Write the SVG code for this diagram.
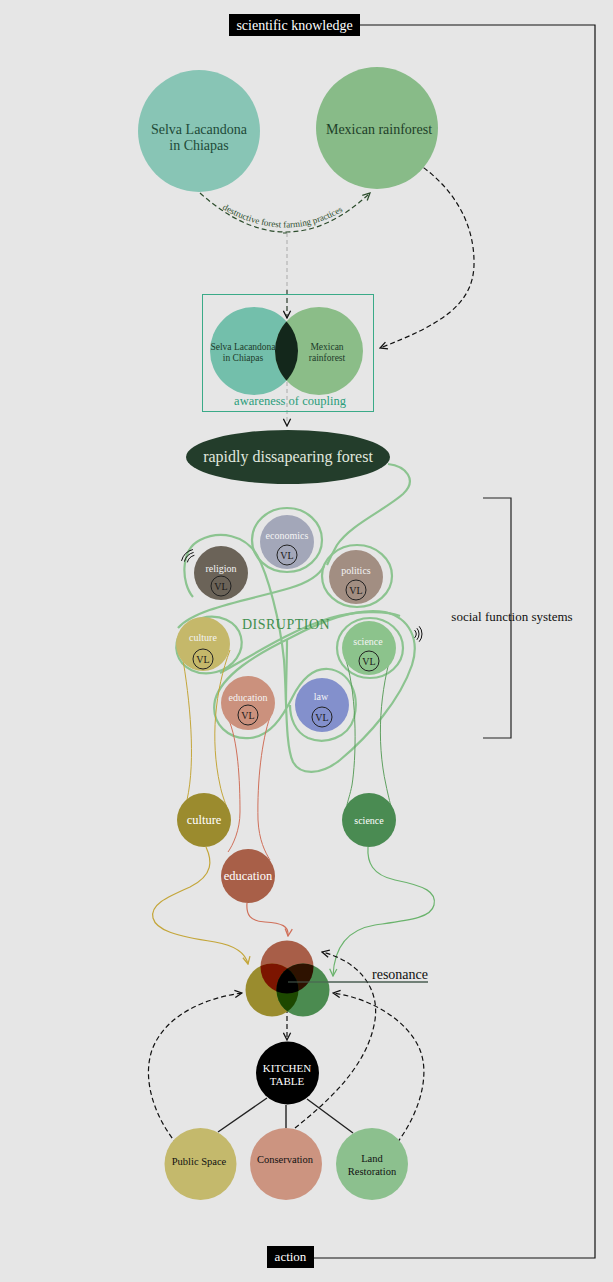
<svg xmlns="http://www.w3.org/2000/svg" width="613" height="1282" viewBox="0 0 613 1282">
<defs>
<style>
text{font-family:"Liberation Serif","DejaVu Serif",serif;}
.c{text-anchor:middle;}
.tangle{fill:none;stroke:#8cc490;stroke-width:2.2;}
.vl{fill:none;stroke:#222;stroke-width:1;}
.vlt{font-size:10px;fill:#1a1a1a;text-anchor:middle;}
.lab{font-size:10px;fill:#f4f4f4;text-anchor:middle;}
.dash{fill:none;stroke:#111;stroke-width:1.2;stroke-dasharray:5,3;}
.vib{fill:none;stroke:#111;stroke-width:1;}
</style>
<marker id="mBlack" viewBox="0 0 10 10" refX="9" refY="5" markerWidth="9" markerHeight="9" markerUnits="userSpaceOnUse" orient="auto"><path d="M1,1 L9,5 L1,9" fill="none" stroke="#111" stroke-width="1.4"/></marker>
<marker id="mDG" viewBox="0 0 10 10" refX="9" refY="5" markerWidth="9" markerHeight="9" markerUnits="userSpaceOnUse" orient="auto"><path d="M1,1 L9,5 L1,9" fill="none" stroke="#2d4d2d" stroke-width="1.4"/></marker>
<marker id="mOl" viewBox="0 0 10 10" refX="9" refY="5" markerWidth="9" markerHeight="9" markerUnits="userSpaceOnUse" orient="auto"><path d="M1,1 L9,5 L1,9" fill="none" stroke="#c4a63a" stroke-width="1.4"/></marker>
<marker id="mRd" viewBox="0 0 10 10" refX="9" refY="5" markerWidth="9" markerHeight="9" markerUnits="userSpaceOnUse" orient="auto"><path d="M1,1 L9,5 L1,9" fill="none" stroke="#d0705a" stroke-width="1.4"/></marker>
<marker id="mGr" viewBox="0 0 10 10" refX="9" refY="5" markerWidth="9" markerHeight="9" markerUnits="userSpaceOnUse" orient="auto"><path d="M1,1 L9,5 L1,9" fill="none" stroke="#6ab36c" stroke-width="1.4"/></marker>
<clipPath id="cSelva"><circle cx="254" cy="351" r="44"/></clipPath>
<clipPath id="cTop"><circle cx="287" cy="967" r="26.5"/></clipPath>
<clipPath id="cLeft"><circle cx="272" cy="990" r="26.5"/></clipPath>
<path id="arcText" d="M203,196 Q286,258 362,198"/>
</defs>
<rect x="0" y="0" width="613" height="1282" fill="#e6e6e6"/>

<g id="connectors">
<!-- frame -->
<path d="M360,25 H595 V1258 H314" fill="none" stroke="#111" stroke-width="1.2"/>
<!-- destructive practices arc -->
<path d="M200,193 Q287,271 370,193" fill="none" stroke="#2d4d2d" stroke-width="1.2" stroke-dasharray="5,3" marker-end="url(#mDG)"/>
<text font-size="9" fill="#2d4d2d"><textPath href="#arcText" startOffset="50%" text-anchor="middle">destructive forest farming practices</textPath></text>
<!-- vertical gray line -->
<path d="M283,233 H287" stroke="#2d4d2d" stroke-width="1"/>
<path d="M287,233 V290" fill="none" stroke="#aaa" stroke-width="1" stroke-dasharray="4,3"/>
<path d="M287,290 V318" fill="none" stroke="#2a3a2a" stroke-width="1.2" stroke-dasharray="5,3" marker-end="url(#mBlack)"/>
<path d="M287,382 V426" fill="none" stroke="#aaa" stroke-width="1" stroke-dasharray="4,3" marker-end="url(#mBlack)"/>
<!-- mexican rainforest to venn -->
<path class="dash" d="M417,163 C450,185 475,220 474,265 C473,305 440,325 380,348" marker-end="url(#mBlack)"/>
<!-- tangle -->
<path class="tangle" d="M388,464 C406,466 418,480 403,494 C385,510 350,525 337,545 C333,552 330,558 327,565"/>
<path class="tangle" d="M178,628 C195,608 250,600 290,588 C310,582 320,574 324,566"/>
<path class="tangle" d="M193,597 C181,583 180,550 200,540 C220,530 245,535 257,555 C268,575 280,620 284,660 C287,700 285,745 293,762 C300,775 320,776 340,760 C370,735 400,700 412,665 C420,640 410,618 385,612 C355,607 320,622 290,638 C255,655 222,675 215,700 C210,725 230,740 250,738 C270,736 282,718 292,698 C300,682 312,668 328,669 C350,671 360,695 354,718 C348,738 325,745 308,738 C295,732 290,718 290,705"/>
<path class="tangle" d="M220,673 C245,660 290,630 330,618 C355,611 385,610 400,616"/>
<path class="tangle" d="M287,640 C287,660 286,680 286,700"/>
<ellipse class="tangle" cx="287" cy="540" rx="35" ry="32"/>
<ellipse class="tangle" cx="357" cy="576" rx="35" ry="31"/>
<ellipse class="tangle" cx="209" cy="645" rx="33" ry="28" transform="rotate(-15 209 645)"/>
<ellipse class="tangle" cx="370" cy="648" rx="33" ry="30"/>
<!-- strands -->
<path d="M182,654 C190,700 196,760 187,800" fill="none" stroke="#c4a63a" stroke-width="1"/>
<path d="M230,650 C215,690 210,740 220,785 C222,795 225,802 227,808" fill="none" stroke="#c4a63a" stroke-width="1"/>
<path d="M228,718 C238,740 240,780 240,812 C240,830 233,845 228,852" fill="none" stroke="#d0705a" stroke-width="1"/>
<path d="M270,717 C262,740 257,780 258,820 C259,840 265,852 270,860" fill="none" stroke="#d0705a" stroke-width="1"/>
<path d="M346,660 C358,700 356,760 352,785 C350,795 348,800 347,805" fill="none" stroke="#5fa060" stroke-width="1"/>
<path d="M393,648 C380,690 376,740 386,785 C388,795 390,802 391,807" fill="none" stroke="#5fa060" stroke-width="1"/>
<!-- to resonance -->
<path d="M206,847 C212,860 214,875 190,887 C165,898 150,905 153,918 C156,930 175,936 215,942 C238,946 246,955 248,964" fill="none" stroke="#c4a63a" stroke-width="1.2" marker-end="url(#mOl)"/>
<path d="M247,903 C246,915 250,921 265,922 C282,923 289,926 288,936" fill="none" stroke="#d0705a" stroke-width="1.2" marker-end="url(#mRd)"/>
<path d="M368,847 C367,862 372,875 395,880 C425,886 437,892 434,905 C431,918 410,920 375,925 C345,930 334,950 333,976" fill="none" stroke="#6ab36c" stroke-width="1.2" marker-end="url(#mGr)"/>
<!-- resonance line -->
<path d="M288,982 H428" stroke="#4a5e52" stroke-width="1.2"/>
<!-- venn to kitchen -->
<path class="dash" d="M287,984 V1040" marker-end="url(#mBlack)"/>
<!-- kitchen lines -->
<path d="M267,1098 L218,1132 M286,1105 V1128 M307,1099 L353,1133" stroke="#222" stroke-width="1.4"/>
<!-- action loops -->
<path class="dash" d="M188,1156 C160,1130 140,1085 152,1050 C165,1015 205,998 242,993" marker-end="url(#mBlack)"/>
<path class="dash" d="M295,1128 C330,1100 368,1065 375,1020 C380,985 355,960 322,952" marker-end="url(#mBlack)"/>
<path class="dash" d="M387,1155 C415,1125 432,1080 420,1050 C408,1020 370,998 333,993" marker-end="url(#mBlack)"/>
<!-- bracket -->
<path d="M483,498 H511 V738 H483" fill="none" stroke="#222" stroke-width="1.2"/>
<!-- vibration marks -->
<path class="vib" d="M187.3,562.4 A10,10 0 0,1 194.4,555.3 M184.4,561.6 A13,13 0 0,1 193.6,552.4 M181.5,560.9 A16,16 0 0,1 192.9,549.5"/>
<path class="vib" d="M414.6,630.1 A6,6 0 0,1 414.6,637.9 M416.9,628.2 A9,9 0 0,1 416.9,639.8 M419.2,626.3 A12,12 0 0,1 419.2,641.7"/>
</g>

<g id="label-scientific">
<rect x="229" y="14" width="131" height="22" fill="#000"/>
<text x="294.5" y="30" class="c" font-size="14" fill="#fff">scientific knowledge</text>
</g>
<g id="label-action">
<rect x="267" y="1246" width="47" height="22" fill="#000"/>
<text x="290.5" y="1261" class="c" font-size="13" fill="#fff">action</text>
</g>

<g id="selva">
<circle cx="199" cy="131" r="61" fill="#88c5b5"/>
<text x="199" y="134" class="c" font-size="14" fill="#1e4a38">Selva Lacandona</text>
<text x="199" y="150" class="c" font-size="14" fill="#1e4a38">in Chiapas</text>
</g>
<g id="mexican">
<circle cx="377" cy="128" r="61" fill="#88bb88"/>
<text x="379" y="134" class="c" font-size="14" fill="#1e4028">Mexican rainforest</text>
</g>

<g id="coupling">
<rect x="202.5" y="294.5" width="171" height="117" fill="none" stroke="#3aaa88" stroke-width="1"/>
<circle cx="254" cy="351" r="44" fill="#73bfab"/>
<circle cx="319" cy="351" r="44" fill="#8bbd88"/>
<circle cx="319" cy="351" r="44" fill="#13271b" clip-path="url(#cSelva)"/>
<text x="243" y="350" class="c" font-size="9.5" fill="#1d3b2a">Selva Lacandona</text>
<text x="243" y="361" class="c" font-size="9.5" fill="#1d3b2a">in Chiapas</text>
<text x="327" y="350" class="c" font-size="9.5" fill="#1d3b2a">Mexican</text>
<text x="327" y="361" class="c" font-size="9.5" fill="#1d3b2a">rainforest</text>
<text x="290" y="405" class="c" font-size="12.5" fill="#2a9d7a">awareness of coupling</text>
</g>

<g id="forest">
<ellipse cx="288" cy="457" rx="102" ry="27" fill="#233d2b"/>
<text x="288" y="462" class="c" font-size="16" fill="#e0e8df">rapidly dissapearing forest</text>
</g>

<g id="disruption-label">
<text x="286" y="629" class="c" font-size="14" fill="#3f8f4f" letter-spacing="0.5">DISRUPTION</text>
</g>

<g id="economics">
<circle cx="287" cy="542" r="27" fill="#a3a7b9"/>
<text x="287" y="539" class="lab">economics</text>
<circle cx="287" cy="555" r="10" class="vl"/><text x="287" y="558.5" class="vlt">VL</text>
</g>
<g id="religion">
<circle cx="221" cy="573" r="27" fill="#6b6358"/>
<text x="221" y="572" class="lab">religion</text>
<circle cx="221" cy="586" r="10" class="vl"/><text x="221" y="589.5" class="vlt">VL</text>
</g>
<g id="politics">
<circle cx="356" cy="577" r="27" fill="#a28e82"/>
<text x="356" y="574" class="lab">politics</text>
<circle cx="356" cy="590" r="10" class="vl"/><text x="356" y="593.5" class="vlt">VL</text>
</g>
<g id="culture">
<circle cx="203" cy="644" r="27" fill="#c5b86a"/>
<text x="203" y="641" class="lab">culture</text>
<circle cx="203" cy="659" r="10" class="vl"/><text x="203" y="662.5" class="vlt">VL</text>
</g>
<g id="science">
<circle cx="369" cy="648" r="27" fill="#8cc38c"/>
<text x="368" y="645" class="lab">science</text>
<circle cx="369" cy="661" r="10" class="vl"/><text x="369" y="664.5" class="vlt">VL</text>
</g>
<g id="education">
<circle cx="248" cy="703" r="27" fill="#cb917d"/>
<text x="248" y="701" class="lab">education</text>
<circle cx="248" cy="715" r="10" class="vl"/><text x="248" y="718.5" class="vlt">VL</text>
</g>
<g id="law">
<circle cx="322" cy="705" r="27" fill="#8390cc"/>
<text x="321" y="700" class="lab">law</text>
<circle cx="322" cy="717" r="10" class="vl"/><text x="322" y="720.5" class="vlt">VL</text>
</g>

<g id="social-function-systems">
<text x="512" y="621" class="c" font-size="13" fill="#111">social function systems</text>
</g>

<g id="culture-low">
<circle cx="204" cy="820" r="27" fill="#9b8b2e"/>
<text x="204" y="824" class="c" font-size="12.5" fill="#fff">culture</text>
</g>
<g id="education-low">
<circle cx="248" cy="876" r="27" fill="#a85f48"/>
<text x="248" y="880" class="c" font-size="12.5" fill="#fff">education</text>
</g>
<g id="science-low">
<circle cx="369" cy="820" r="27" fill="#4a8b52"/>
<text x="369" y="823.5" class="c" font-size="10" fill="#fff">science</text>
</g>

<g id="resonance">
<circle cx="287" cy="967" r="26.5" fill="#a85e48"/>
<circle cx="272" cy="990" r="26.5" fill="#9a8c2e"/>
<circle cx="303" cy="990" r="26.5" fill="#4b8b50"/>
<g clip-path="url(#cTop)"><circle cx="272" cy="990" r="26.5" fill="#7c1500"/><circle cx="303" cy="990" r="26.5" fill="#2e1200"/></g>
<g clip-path="url(#cLeft)"><circle cx="303" cy="990" r="26.5" fill="#1d4800"/></g>
<g clip-path="url(#cTop)"><g clip-path="url(#cLeft)"><circle cx="303" cy="990" r="26.5" fill="#000"/></g></g>
<path d="M288,982 H428" stroke="#4a5e52" stroke-width="1.2"/>
<text x="400" y="979" class="c" font-size="14" fill="#111">resonance</text>
</g>

<g id="kitchen">
<circle cx="287.5" cy="1073" r="31.5" fill="#000"/>
<text x="287" y="1072" class="c" font-size="11" fill="#fff">KITCHEN</text>
<text x="287" y="1085" class="c" font-size="11" fill="#fff">TABLE</text>
</g>
<g id="public-space">
<circle cx="200.5" cy="1164" r="36" fill="#c4b96c"/>
<text x="199" y="1165" class="c" font-size="10.5" fill="#111">Public Space</text>
</g>
<g id="conservation">
<circle cx="286" cy="1164" r="36" fill="#cc9480"/>
<text x="285" y="1163" class="c" font-size="10.5" fill="#111">Conservation</text>
</g>
<g id="land-restoration">
<circle cx="372" cy="1164" r="36" fill="#8cc08e"/>
<text x="372" y="1162" class="c" font-size="10.5" fill="#111">Land</text>
<text x="372" y="1175" class="c" font-size="10.5" fill="#111">Restoration</text>
</g>
</svg>
